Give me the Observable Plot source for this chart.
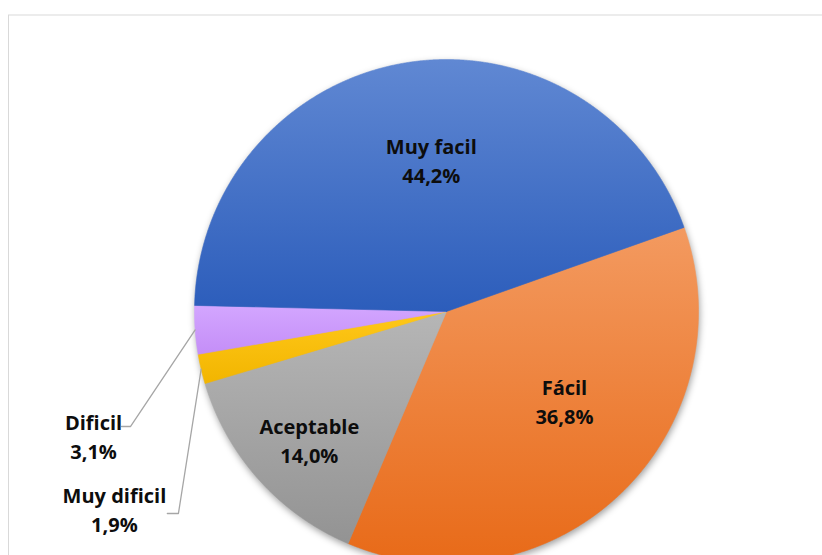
<!DOCTYPE html>
<html>
<head>
<meta charset="utf-8">
<script src="https://cdn.jsdelivr.net/npm/d3@7"></script>
<script src="https://cdn.jsdelivr.net/npm/@observablehq/plot@0.6"></script>
<style>
  html, body { margin: 0; padding: 0; background: #ffffff; }
  #chart svg { display: block; }
</style>
</head>
<body>
<div id="chart"></div>
<script>
// ---- data ----
const categories = ["Fácil", "Aceptable", "Muy dificil", "Dificil", "Muy facil"];
const shares = [36.8, 14.0, 1.9, 3.1, 44.2];
const shareLabels = ["36,8%", "14,0%", "1,9%", "3,1%", "44,2%"];

// ---- styling / layout ----
const firstSliceAngleDeg = 70.5;            // Excel "angle of first slice"
const gradientStops = [
  ["#F39A60", "#E86A18"],   // Fácil
  ["#B6B6B6", "#939393"],   // Aceptable
  ["#FFC81A", "#F2B500"],   // Muy dificil
  ["#D3A6FF", "#C48EF7"],   // Dificil
  ["#6088D3", "#2C5DBB"]    // Muy facil
];
// label block centre: [radius (in pie radii), angle in degrees clockwise from 12 o'clock]
const labelPlacement = [[0.586, 127.0], [0.743, 227.1], [1.531, 239.4], [1.484, 250.7], [0.608, -5.7]];
// leader lines for outside labels: elbow [radius, angle], horizontal tail length in pie radii
const leaderPlacement = [null, null, {elbow: [1.332, 233.0], tail: 0.044}, {elbow: [1.334, 250.0], tail: 0.036}, null];

const W = 822, H = 555;
const cx = 446, cy = 311, R = 252;
const rad = d => d * Math.PI / 180;

const table = categories.map((c, i) => ({cat: c, share: shares[i], pct: shareLabels[i], i}));
const start = rad(firstSliceAngleDeg);
const arcs = d3.pie().sort(null).value(d => d.share).startAngle(start).endAngle(start + 2 * Math.PI)(table);

function slicePoints(a) {
  const pts = [{x: 0, y: 0}];
  const n = Math.max(4, Math.ceil((a.endAngle - a.startAngle) / 0.004));
  for (let k = 0; k <= n; k++) {
    const t = a.startAngle + (a.endAngle - a.startAngle) * k / n;
    pts.push({x: Math.sin(t), y: Math.cos(t)});
  }
  pts.push({x: 0, y: 0});
  return pts;
}
const polar = (r, deg) => ({x: r * Math.sin(rad(deg)), y: r * Math.cos(rad(deg))});

const circlePts = d3.range(0, 361, 1).map(d => polar(1, d));

const sliceMarks = arcs.map((a, i) => Plot.line(slicePoints(a), {
  x: "x", y: "y",
  fill: `url(#grad${i})`,
  stroke: `url(#grad${i})`,
  strokeWidth: 0.6,
  curve: "linear-closed"
}));

const leaderMarks = [];
arcs.forEach((a, i) => {
  const lp = leaderPlacement[i];
  if (!lp) return;
  const mid = (a.startAngle + a.endAngle) / 2;
  const edge = {x: Math.sin(mid), y: Math.cos(mid)};
  const elbow = polar(lp.elbow[0], lp.elbow[1]);
  const tail = {x: elbow.x - lp.tail, y: elbow.y};
  leaderMarks.push(Plot.line([edge, elbow, tail], {x: "x", y: "y", stroke: "#A6A6A6", strokeWidth: 1.3}));
});

const labels = table.map((d, i) => {
  const p = polar(labelPlacement[i][0], labelPlacement[i][1]);
  return {...d, x: p.x, y: p.y};
});

const svg = Plot.plot({
  width: W, height: H,
  marginLeft: 8, marginTop: 14.5, marginRight: -40, marginBottom: -40,
  x: {domain: [-1, 1], range: [cx - R, cx + R], axis: null},
  y: {domain: [-1, 1], range: [cy + R, cy - R], axis: null},
  style: {background: "#ffffff"},
  marks: [
    Plot.frame({stroke: "#D9D9D9", strokeWidth: 1}),
    Plot.line(circlePts, {x: "x", y: "y", fill: "#010101", fillOpacity: 0.38, stroke: "none", curve: "linear-closed", dx: 1, dy: 3}),
    ...sliceMarks,
    ...leaderMarks,
    Plot.text(labels, {
      x: "x", y: "y",
      text: d => d.cat + "\n" + d.pct,
      fontFamily: "Open Sans",
      fontWeight: "bold",
      fontSize: 20,
      lineHeight: 1.45,
      fill: "#0D0D0D",
      textAnchor: "middle"
    })
  ]
});

// gradients + shadow definitions
const defs = d3.select(svg).insert("defs", ":first-child");
gradientStops.forEach((s, i) => {
  const g = defs.append("linearGradient").attr("id", `grad${i}`)
    .attr("x1", 0).attr("y1", 0).attr("x2", 0).attr("y2", 1);
  g.append("stop").attr("offset", "0%").attr("stop-color", s[0]);
  g.append("stop").attr("offset", "100%").attr("stop-color", s[1]);
});
const f = defs.append("filter").attr("id", "pieShadow")
  .attr("x", "-10%").attr("y", "-10%").attr("width", "120%").attr("height", "120%");
f.append("feGaussianBlur").attr("stdDeviation", 3.5);
d3.select(svg).selectAll("g[fill='#010101']").attr("filter", "url(#pieShadow)");

document.getElementById("chart").appendChild(svg);
</script>
</body>
</html>
